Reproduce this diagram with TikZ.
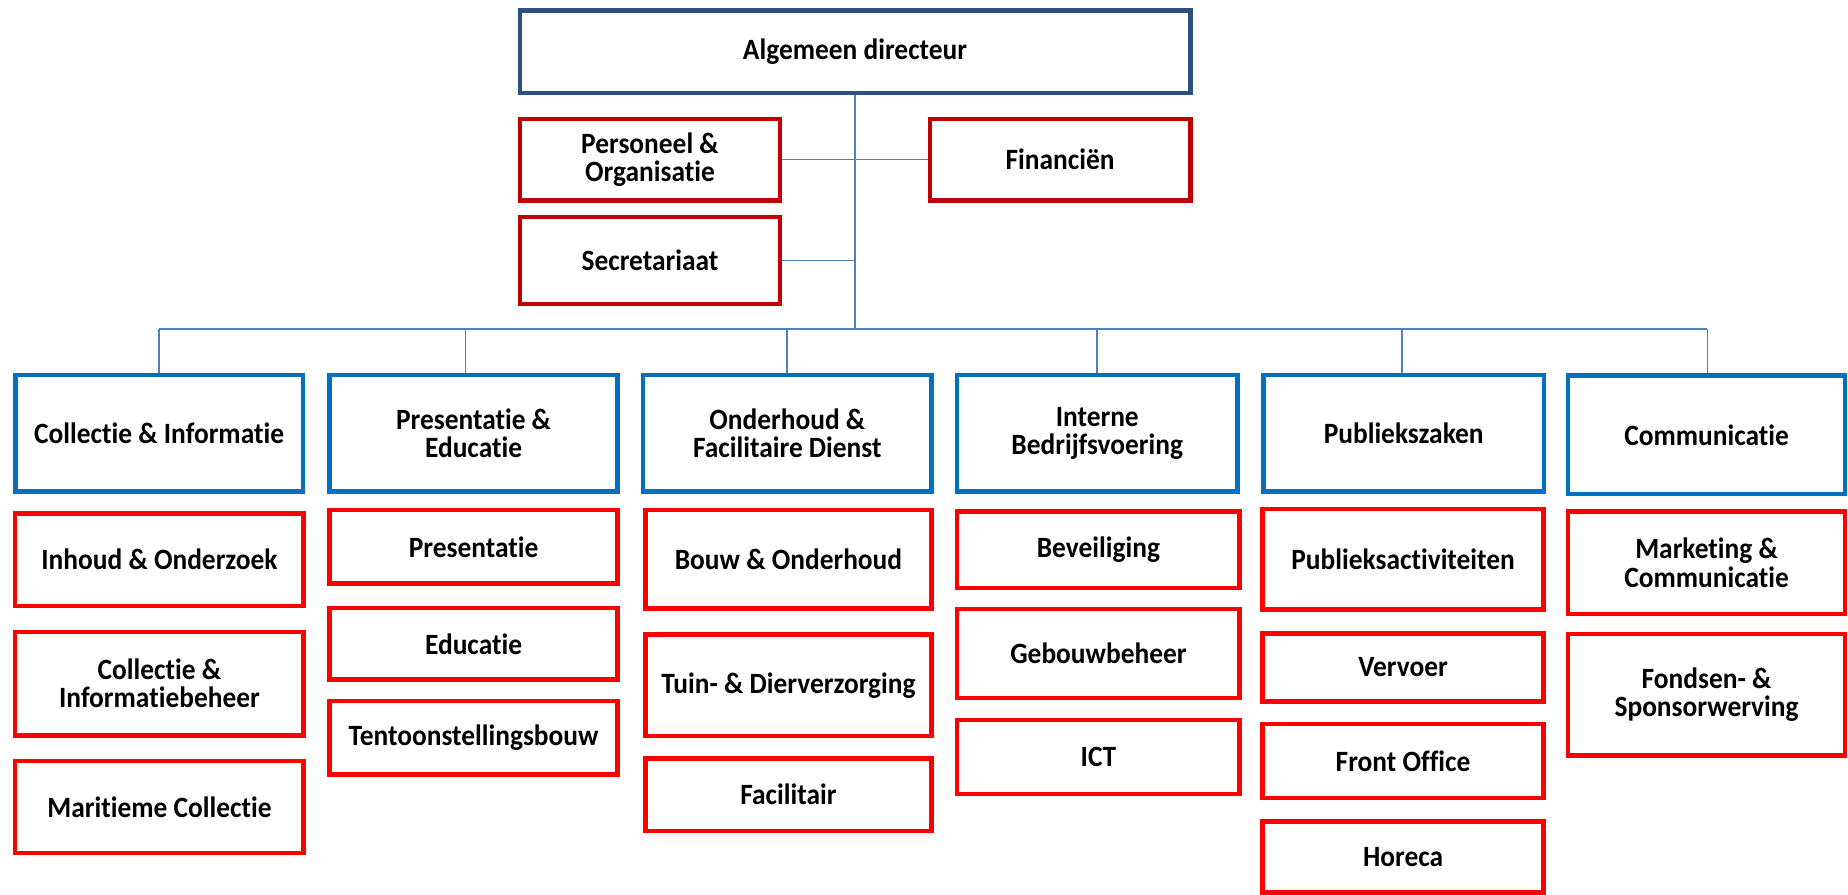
\documentclass[tikz,border=0pt]{standalone}
\usepackage{fontspec}
\setmainfont{Carlito}[FakeStretch=0.93, Ligatures={NoCommon}]
\definecolor{topblue}{HTML}{2C5081}
\definecolor{darkred}{HTML}{C00000}
\definecolor{midblue}{HTML}{0070C0}
\definecolor{brightred}{HTML}{FF0000}
\definecolor{linkblue}{HTML}{4F81BD}
\begin{document}
\begin{tikzpicture}[x=1pt,y=-1pt,
  box/.style={draw, line width=3.8pt, rectangle, align=center, inner sep=0pt,
    font=\fontsize{25}{24}\selectfont\bfseries, text=black},
  headbox/.style={box, draw=topblue},
  staffbox/.style={box, draw=darkred},
  deptbox/.style={box, draw=midblue},
  unitbox/.style={box, draw=brightred},
  link/.style={draw=linkblue, line width=1.3pt}]
\useasboundingbox (0,0) rectangle (1568,758.6);
% top
\node[headbox, minimum width=569pt, minimum height=70pt] (top) at (725.5,44) {Algemeen directeur};
\node[staffbox, minimum width=221pt, minimum height=69pt] (po) at (551.5,135.5) {Personeel \&\\Organisatie};
\node[staffbox, minimum width=221pt, minimum height=74pt] (sec) at (551.5,221) {Secretariaat};
\node[staffbox, minimum width=221pt, minimum height=69pt] (fin) at (899.5,135.5) {Financiën};
% departments
\node[deptbox, minimum width=244pt, minimum height=99pt] (c1) at (135,367.5) {Collectie \& Informatie};
\node[deptbox, minimum width=244.5pt, minimum height=99pt] (c2) at (401.8,367.5) {Presentatie \&\\Educatie};
\node[deptbox, minimum width=244.5pt, minimum height=99pt] (c3) at (668,367.5) {Onderhoud \&\\Facilitaire Dienst};
\node[deptbox, minimum width=237.7pt, minimum height=99pt] (c4) at (931,367.5) {Interne\\Bedrijfsvoering};
\node[deptbox, minimum width=238pt, minimum height=99pt] (c5) at (1191,367.5) {Publiekszaken};
\node[deptbox, minimum width=235pt, minimum height=100.7pt] (c6) at (1448,369) {Communicatie};
% connectors
\coordinate (b1) at (135,279);
\coordinate (b2) at (395,279);
\coordinate (b3) at (667.6,279);
\coordinate (b4) at (930.8,279);
\coordinate (b5) at (1189.6,279);
\coordinate (b6) at (1448.6,279);
\path[link] (top.south) -- (top.south |- b1);
\path[link] (b1) -- (b6);
\path[link] (po.east) -- (fin.west);
\path[link] (sec.east) -- (sec.east -| top.south);
\path[link] (b1) -- (b1 |- c1.north);
\path[link] (b2) -- (b2 |- c2.north);
\path[link] (b3) -- (b3 |- c3.north);
\path[link] (b4) -- (b4 |- c4.north);
\path[link] (b5) -- (b5 |- c5.north);
\path[link] (b6) -- (b6 |- c6.north);
% column 1
\node[unitbox, minimum width=244.8pt, minimum height=78.6pt] (u11) at (135.3,474.8) {Inhoud \& Onderzoek};
\node[unitbox, minimum width=244.8pt, minimum height=87.7pt] (u12) at (135.3,580) {Collectie \&\\Informatiebeheer};
\node[unitbox, minimum width=244.8pt, minimum height=77.8pt] (u13) at (135.3,684.8) {Maritieme Collectie};
% column 2
\node[unitbox, minimum width=244.5pt, minimum height=62.2pt] (u21) at (401.8,464) {Presentatie};
\node[unitbox, minimum width=244.5pt, minimum height=60.8pt] (u22) at (401.8,546.3) {Educatie};
\node[unitbox, minimum width=244.5pt, minimum height=62.2pt] (u23) at (401.8,626) {Tentoonstellingsbouw};
% column 3
\node[unitbox, minimum width=243pt, minimum height=83.2pt] (u31) at (669,474.5) {Bouw \& Onderhoud};
\node[unitbox, minimum width=243pt, minimum height=86.2pt] (u32) at (669,581.5) {Tuin- \& Dierverzorging};
\node[unitbox, minimum width=243pt, minimum height=61.7pt] (u33) at (669,674.3) {Facilitair};
% column 4
\node[unitbox, minimum width=239.7pt, minimum height=64.8pt] (u41) at (932,466.3) {Beveiliging};
\node[unitbox, minimum width=239.7pt, minimum height=75.2pt] (u42) at (932,554.5) {Gebouwbeheer};
\node[unitbox, minimum width=239.7pt, minimum height=62.8pt] (u43) at (932,642.3) {ICT};
% column 5
\node[unitbox, minimum width=238.2pt, minimum height=85.2pt] (u51) at (1190.5,474.5) {Publieksactiviteiten};
\node[unitbox, minimum width=238.2pt, minimum height=57.6pt] (u52) at (1190.5,566.3) {Vervoer};
\node[unitbox, minimum width=238.2pt, minimum height=62.6pt] (u53) at (1190.5,645.8) {Front Office};
\node[unitbox, minimum width=238.2pt, minimum height=60.2pt] (u54) at (1190.5,727) {Horeca};
% column 6
\node[unitbox, minimum width=235pt, minimum height=87.2pt] (u61) at (1448,477.5) {Marketing \&\\Communicatie};
\node[unitbox, minimum width=235pt, minimum height=103.2pt] (u62) at (1448,589.5) {Fondsen- \&\\Sponsorwerving};
\end{tikzpicture}
\end{document}
